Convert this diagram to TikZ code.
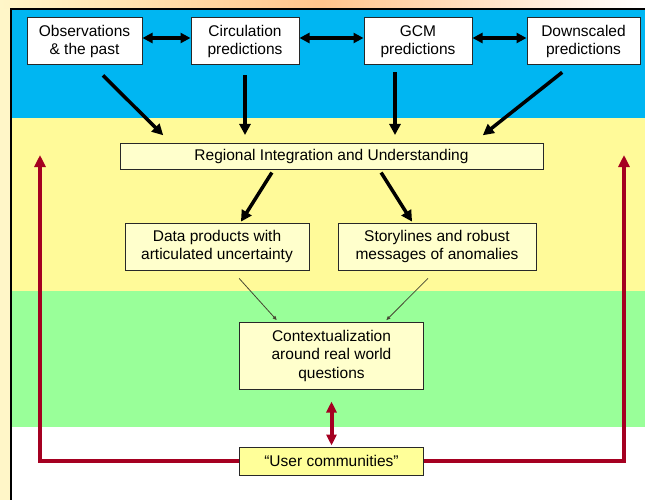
\documentclass[tikz,border=0pt]{standalone}
\usepackage{fontspec}
\setmainfont{Liberation Sans}
\usetikzlibrary{arrows.meta,calc}
\definecolor{bandblue}{RGB}{0,182,242}
\definecolor{bandyellow}{RGB}{255,250,153}
\definecolor{bandgreen}{RGB}{153,255,153}
\definecolor{boxyellow}{RGB}{255,255,204}
\definecolor{userfill}{RGB}{255,255,153}
\definecolor{loopred}{RGB}{165,0,33}
\definecolor{cream}{RGB}{255,246,200}
\definecolor{peach}{RGB}{255,196,140}
\definecolor{thingray}{RGB}{70,70,50}
\definecolor{boxline}{RGB}{40,40,40}
\tikzset{
  boxbase/.style={draw=boxline, line width=1pt, inner sep=0pt, align=center,
    font=\fontsize{15.5}{18.5}\selectfont},
  topbox/.style={boxbase, fill=white, minimum height=47pt},
  ybox/.style={boxbase, fill=boxyellow},
  blkarr/.style={line width=3.5pt, -{Triangle[length=11pt,width=11pt]}},
  blkboth/.style={line width=3.5pt, {Triangle[length=10pt,width=10pt]}-{Triangle[length=10pt,width=10pt]}},
  thinarr/.style={line width=0.8pt, draw=thingray, -{Triangle[length=4pt,width=3.5pt]}},
  redarr/.style={line width=4pt, draw=loopred, -{Triangle[length=12pt,width=11pt]}},
  redboth/.style={line width=4pt, draw=loopred, {Triangle[length=11pt,width=10pt]}-{Triangle[length=11pt,width=10pt]}},
}
\begin{document}
\begin{tikzpicture}[x=1pt,y=-1pt]
\useasboundingbox (0,0) rectangle (645,500);
% margins
\fill[cream] (0,0) rectangle (645,500);
\shade[left color=cream, right color=white, middle color=peach] (0,0) rectangle (645,9);
% bands
\fill[white] (11,9) rectangle (645,500);
\fill[bandblue] (11,9) rectangle (645,118);
\fill[bandyellow] (11,118) rectangle (645,291);
\fill[bandgreen] (11,291) rectangle (645,427);
\draw[line width=2pt, black] (11,500) -- (11,9) -- (645,9);

% nodes
\node[topbox, minimum width=115pt] (obs) at (84.5,41.5) {Observations\\ \& the past};
\node[topbox, minimum width=108pt] (circ) at (245,41.5) {Circulation\\predictions};
\node[topbox, minimum width=108pt] (gcm) at (418,41.5) {GCM\\predictions};
\node[topbox, minimum width=113pt] (down) at (583.5,41.5) {Downscaled\\predictions};
\node[ybox, minimum width=423pt, minimum height=26pt] (reg) at (331.5,156.5) {Regional Integration and Understanding};
\node[ybox, minimum width=184pt, minimum height=47pt] (data) at (217,246.5) {Data products with\\articulated uncertainty};
\node[ybox, minimum width=198pt, minimum height=47pt] (story) at (437,246.5) {Storylines and robust\\messages of anomalies};
\node[ybox, minimum width=184pt, minimum height=67pt] (ctx) at (331.5,355.5) {Contextualization\\around real world\\questions};

% red loop
\coordinate (lt) at (40,155);
\coordinate (rt) at (624,155);
\node[boxbase, fill=userfill, minimum width=184pt, minimum height=28pt] (user) at (331.5,461) {“User communities”};
\draw[redarr] (user.west) -| (lt);
\draw[redarr] (user.east) -| (rt);
\node[boxbase, fill=userfill, minimum width=184pt, minimum height=28pt] at (user) {“User communities”};
\draw[redboth, shorten <=12pt, shorten >=1pt] (ctx.south) -- (user.north);

% top horizontal arrows
\draw[blkboth] ([yshift=3.5pt]obs.east) -- ([yshift=3.5pt]circ.west);
\draw[blkboth] ([yshift=3.5pt]circ.east) -- ([yshift=3.5pt]gcm.west);
\draw[blkboth] ([yshift=3.5pt]gcm.east) -- ([yshift=3.5pt]down.west);

% down arrows
\draw[blkarr, shorten <=14pt, shorten >=11pt] ([xshift=8.5pt]obs.south) -- ([xshift=-160.5pt]reg.north);
\draw[blkarr, shorten <=10pt, shorten >=8pt] (circ.south) -- (circ.south |- reg.north);
\draw[blkarr, shorten <=7pt, shorten >=8pt] ([xshift=-23pt]gcm.south) -- ([xshift=-23pt]gcm.south |- reg.north);
\draw[blkarr, shorten <=11pt, shorten >=12.5pt] ([xshift=-12.7pt]down.south) -- ([xshift=141.5pt]reg.north);

\draw[blkarr, shorten <=3pt, shorten >=1pt] ([xshift=-58pt]reg.south) -- ([xshift=23.4pt]data.north);
\draw[blkarr, shorten <=3pt, shorten >=1pt] ([xshift=48pt]reg.south) -- ([xshift=-24.4pt]story.north);

% thin arrows
\draw[thinarr, shorten <=10.7pt, shorten >=2pt] ([xshift=15pt]data.south) -- ([xshift=-53.5pt]ctx.north);
\draw[thinarr, shorten <=11pt, shorten >=2pt] ([xshift=-1.2pt]story.south) -- ([xshift=53.5pt]ctx.north);
\end{tikzpicture}
\end{document}
